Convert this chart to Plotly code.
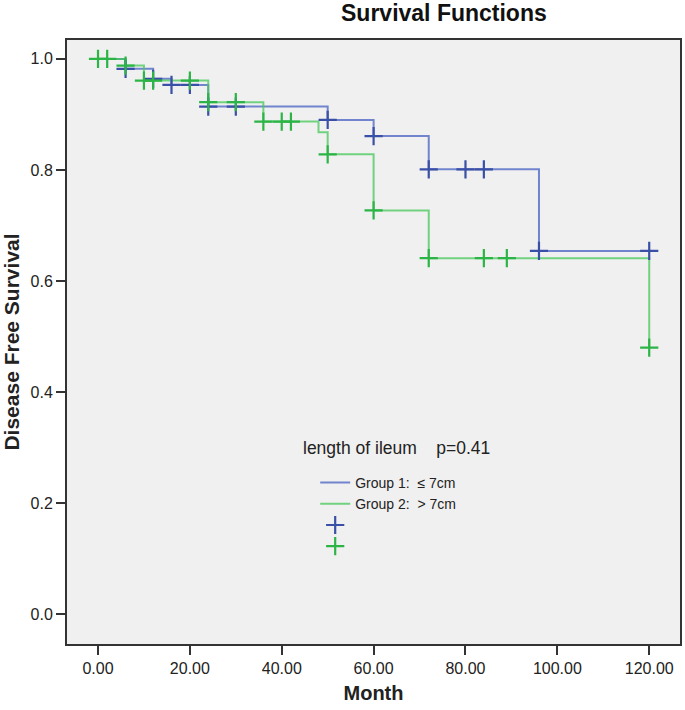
import numpy as np
import plotly.graph_objects as go

# ---- data ----
g1_times = [0, 6, 12, 16, 24, 50, 60, 72, 96, 120]
g1_surv = [1.0, 0.982, 0.964, 0.953, 0.914, 0.890, 0.861, 0.801, 0.654, 0.654]
g1_cens = [6, 12, 16, 20, 24, 30, 50, 60, 72, 80, 84, 96, 120]

g2_times = [0, 6, 10, 24, 36, 48, 50, 60, 72, 120]
g2_surv = [1.0, 0.988, 0.961, 0.922, 0.887, 0.868, 0.828, 0.727, 0.641, 0.480]
g2_cens = [0, 2, 6, 10, 12, 20, 24, 30, 36, 40, 42, 50, 60, 72, 84, 89, 120]

x_ticks = [0, 20, 40, 60, 80, 100, 120]
y_ticks = [0.0, 0.2, 0.4, 0.6, 0.8, 1.0]

group_names = ["Group 1:  \u2264 7cm", "Group 2:  > 7cm"]
legend_title = "length of ileum    p=0.41"

BLUE_LINE = "rgba(80,106,196,0.80)"
BLUE_MARK = "#3a4fa6"
GREEN_LINE = "rgba(70,200,90,0.75)"
GREEN_MARK = "#2cb446"


def surv_at(times, surv, t):
    idx = np.searchsorted(np.array(times), t, side="right") - 1
    return [surv[i] for i in idx]


fig = go.Figure()

fig.add_trace(go.Scatter(x=g1_times, y=g1_surv, mode="lines", line=dict(shape="hv", color=BLUE_LINE, width=2),
                         name=group_names[0]))
fig.add_trace(go.Scatter(x=g2_times, y=g2_surv, mode="lines", line=dict(shape="hv", color=GREEN_LINE, width=2),
                         name=group_names[1]))
fig.add_trace(go.Scatter(x=g1_cens, y=surv_at(g1_times, g1_surv, g1_cens), mode="markers",
                         marker=dict(symbol="cross-thin", size=13, line=dict(color=BLUE_MARK, width=2.2)),
                         name=" "))
fig.add_trace(go.Scatter(x=g2_cens, y=surv_at(g2_times, g2_surv, g2_cens), mode="markers",
                         marker=dict(symbol="cross-thin", size=13, line=dict(color=GREEN_MARK, width=2.2)),
                         name="  "))

W, H = 685, 710
L, R, T, B = 67, 3, 40, 66
pw, ph = W - L - R, H - T - B


def px_x(x):
    return (x - L) / pw


def px_y(y):
    return (H - B - y) / ph


fig.update_layout(
    width=W, height=H,
    margin=dict(l=L, r=R, t=T, b=B),
    paper_bgcolor="white",
    plot_bgcolor="#f0f0f0",
    font=dict(family="Liberation Sans, Arial, sans-serif", size=16, color="#222"),
    showlegend=True,
    legend=dict(x=px_x(316), y=px_y(467), xanchor="left", yanchor="top",
                bgcolor="rgba(0,0,0,0)", font=dict(size=14, color="#222"),
                tracegroupgap=0, itemwidth=30, traceorder="normal"),
    xaxis=dict(range=[-6.75, 126.7], tickvals=x_ticks, tickformat=".2f",
               showgrid=False, zeroline=False, showline=True, mirror=True,
               linecolor="#333", linewidth=2, ticks="outside", ticklen=9, tickwidth=2,
               tickcolor="#333", title=dict(text="<b>Month</b>", font=dict(size=20), standoff=10)),
    yaxis=dict(range=[-0.054, 1.034], tickvals=y_ticks, tickformat=".1f",
               showgrid=False, zeroline=False, showline=True, mirror=True,
               linecolor="#333", linewidth=2, ticks="outside", ticklen=9, tickwidth=2,
               tickcolor="#333", title=dict(text="<b>Disease Free Survival</b>", font=dict(size=21), standoff=6)),
    annotations=[
        dict(text="<b>Survival Functions</b>", xref="paper", yref="paper", x=px_x(445), y=px_y(13),
             xanchor="center", yanchor="middle", showarrow=False, font=dict(size=23, color="#111")),
        dict(text=legend_title, xref="paper", yref="paper", x=px_x(302), y=px_y(448),
             xanchor="left", yanchor="middle", showarrow=False, font=dict(size=17.5, color="#222")),
    ],
)

fig.write_html("out.html")
